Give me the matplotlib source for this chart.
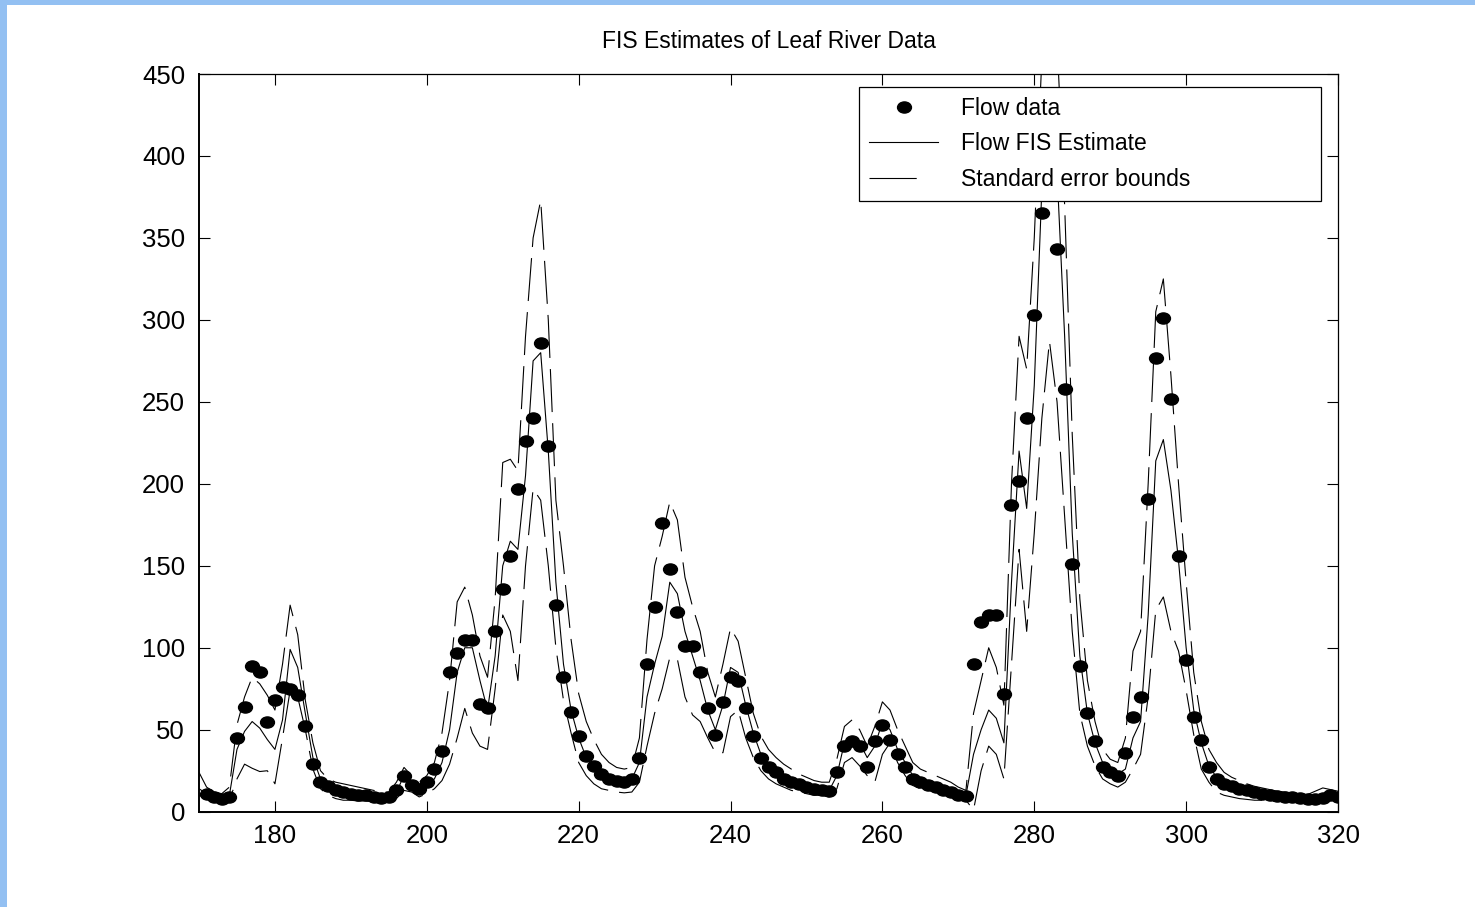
import numpy as np
import matplotlib
matplotlib.use("Agg")
import matplotlib.pyplot as plt
from matplotlib.path import Path
from matplotlib.patches import Rectangle
from matplotlib.lines import Line2D

plt.rcParams['font.family'] = ['Liberation Sans', 'DejaVu Sans']
plt.rcParams['lines.scale_dashes'] = False

days = np.arange(170, 321)

flow = [np.nan, 11, 9, 7.5, 9, 45, 64, 89, 85, 55,
        68, 76, 75, 71, 52, 29, 18, 15.5, 13.5, 12,
        11, 10, 10, 9, 8.5, 9, 13, 22, 16, 14,
        18, 26, 37, 85, 97, 105, 105, 66, 63, 110,
        136, 156, 197, 226, 240, 286, 223, 126, 82, 61,
        46, 34, 28, 23, 20, 19, 18, 20, 33, 90,
        125, 176, 148, 122, 101, 101, 85, 63, 47, 67,
        82, 80, 63, 46, 33, 27, 24, 20, 18, 17,
        15, 14, 13, 12.5, 24, 40, 43, 40, 27, 43,
        53, 44, 35, 27, 20, 18, 16, 15, 13, 12,
        10, 9.5, 90, 116, 120, 120, 72, 187, 202, 240,
        303, 365, 410, 343, 258, 151, 89, 60, 43, 27,
        24, 22, 36, 58, 70, 191, 277, 301, 252, 156,
        92.5, 58, 44, 27, 20, 17, 15.5, 14, 13, 12,
        11, 10, 9.5, 9, 9, 8.5, 7.5, 7.5, 8.5, 10,
        9]

estimate = [14, 11, 9, 8, 10, 38, 49, 55, 51, 44,
            38, 56, 99, 88, 60, 33, 20, 15, 12.5, 11.5,
            10.5, 10, 9.5, 9, 8.5, 8.5, 12, 22, 18, 14,
            16, 20, 30, 50, 85, 100, 100, 80, 62, 95,
            150, 165, 160, 205, 275, 280, 220, 140, 90, 62,
            45, 33, 27, 22, 19.5, 18.5, 18, 20, 30, 70,
            90, 107, 140, 133, 110, 95, 80, 62, 50, 65,
            88, 85, 65, 48, 35, 28, 24, 21, 19, 17,
            16, 15, 14, 13, 22, 42, 46, 42, 33, 40,
            55, 50, 38, 30, 22, 19, 17, 15, 14, 12,
            11, 10, 35, 50, 62, 57, 42, 140, 220, 185,
            260, 380, 430, 390, 290, 170, 95, 60, 42, 30,
            26, 23, 26, 45, 55, 120, 214, 227, 196, 153,
            100, 62, 42, 28, 21, 18, 16, 14.5, 13.5, 12.5,
            11.5, 10.5, 10, 9.5, 9, 8.5, 8, 8, 9, 10,
            9.5]

upper = [24, 15, 12, 11, 15, 53, 70, 82, 78, 71,
         62, 90, 126, 108, 68, 42, 25, 20, 18, 17,
         16, 15, 14, 13, 12, 12, 18, 27, 22, 18,
         22, 30, 48, 80, 128, 137, 120, 95, 82, 130,
         213, 215, 208, 290, 350, 373, 300, 190, 150, 105,
         72, 55, 44, 35, 30, 27, 26, 27, 45, 105,
         150, 168, 189, 178, 143, 125, 110, 85, 70, 90,
         112, 104, 82, 60, 46, 38, 33, 29, 26, 23,
         21, 19, 18, 18, 32, 52, 56, 50, 40, 52,
         67, 62, 50, 40, 30, 26, 24, 22, 20, 18,
         15, 13, 60, 80, 100, 88, 65, 200, 290, 270,
         350, 460, 520, 470, 370, 230, 130, 80, 55, 38,
         32, 30, 45, 98, 110, 200, 305, 325, 266, 200,
         140, 85, 55, 38, 30, 24, 21, 19, 17, 15.5,
         14.5, 13.5, 12.5, 12, 11, 10.5, 10.5, 12.5, 14.5, 13.5,
         12.5]

lower = [10, 8, 6.5, 5.5, 7, 20, 29, 26.5, 24.5, 25,
         17, 45, 74, 70, 50, 26, 14, 10, 8, 7,
         7, 6.5, 6.5, 6, 6, 6, 8, 13, 12, 9,
         11, 14, 19, 29, 45, 63, 48, 40, 38, 75,
         120, 110, 80, 150, 197, 190, 150, 100, 68, 48,
         30, 22, 17, 14, 13, 12, 11.5, 12, 18, 40,
         60, 75, 94, 93, 70, 59, 55, 45, 36, 36,
         58, 62, 45, 33, 25, 20, 17, 15, 13, 12,
         11, 10, 10, 9, 14, 30, 33, 28, 22, 18,
         35, 42, 30, 22, 16, 14, 13, 12, 11, 9,
         8, 7, 1, 25, 40, 35, 20, 90, 160, 110,
         170, 240, 287, 250, 180, 110, 60, 40, 28, 20,
         17, 15, 18, 26, 35, 70, 123, 131, 110, 98,
         74, 47, 26, 18, 12, 10, 9, 8, 7.5, 7,
         7, 6.5, 6.5, 6, 6, 6, 5.5, 6, 7, 7,
         7]

x_ticks = [180, 200, 220, 240, 260, 280, 300, 320]
y_ticks = [0, 50, 100, 150, 200, 250, 300, 350, 400, 450]

fig = plt.figure(figsize=(14.75, 9.07), dpi=100)
fig.patch.set_facecolor('white')
# light blue page border (top and left strips)
fig.patches.append(Rectangle((0, 1 - 5 / 907), 1, 5 / 907, transform=fig.transFigure,
                             facecolor='#93c0f2', edgecolor='none', zorder=0))
fig.patches.append(Rectangle((0, 0), 7 / 1475, 1, transform=fig.transFigure,
                             facecolor='#93c0f2', edgecolor='none', zorder=0))

ax = fig.add_axes([199 / 1475, 1 - 811.7 / 907, (1338 - 199) / 1475, (811.7 - 74) / 907])

# elliptical dot marker
circ = Path.unit_circle()
ell = Path(circ.vertices * np.array([1.25, 1.0]), circ.codes)

ax.plot(days, flow, linestyle='none', marker=ell, markersize=10,
        color='black', zorder=3)
ax.plot(days, estimate, '-', color='black', lw=0.8, zorder=4)
ax.plot(days, upper, color='black', lw=0.8, dashes=(31, 8), zorder=4)
ax.plot(days, lower, color='black', lw=0.8, dashes=(31, 8), zorder=4)

ax.set_xlim(170, 320)
ax.set_ylim(0, 450)
ax.set_xticks(x_ticks)
ax.set_yticks(y_ticks)
ax.tick_params(direction='in', length=8, width=0.8, labelsize=18.5,
               top=True, right=True, pad=9)
ax.tick_params(axis='y', pad=10)
for s in ['left', 'bottom']:
    ax.spines[s].set_linewidth(1.4)
for s in ['top', 'right']:
    ax.spines[s].set_linewidth(0.9)

fig.text((199 + 1338) / 2 / 1475, 1 - 41 / 907, 'FIS Estimates of Leaf River Data',
         fontsize=16.5, ha='center', va='center')

# legend handles (legend shows one dash for the bounds)
h_flow = Line2D([], [], linestyle='none', marker=ell, markersize=10, color='black')
h_est = Line2D([], [], linestyle='-', lw=0.8, color='black')
h_bnd = Line2D([], [], lw=0.8, color='black', dashes=(34, 40))

leg = ax.legend([h_flow, h_est, h_bnd],
                ['Flow data', 'Flow FIS Estimate', 'Standard error bounds'],
                loc='upper left', bbox_to_anchor=(0.5795, 0.8278, 0.4055, 0.1546),
                mode='expand', fontsize=16.5, frameon=True, fancybox=False,
                edgecolor='black', framealpha=1, borderpad=0.45,
                handlelength=3.0, handletextpad=1.0, labelspacing=0.53,
                borderaxespad=0)
leg.get_frame().set_linewidth(0.9)

fig.savefig('out.png', dpi=100)
